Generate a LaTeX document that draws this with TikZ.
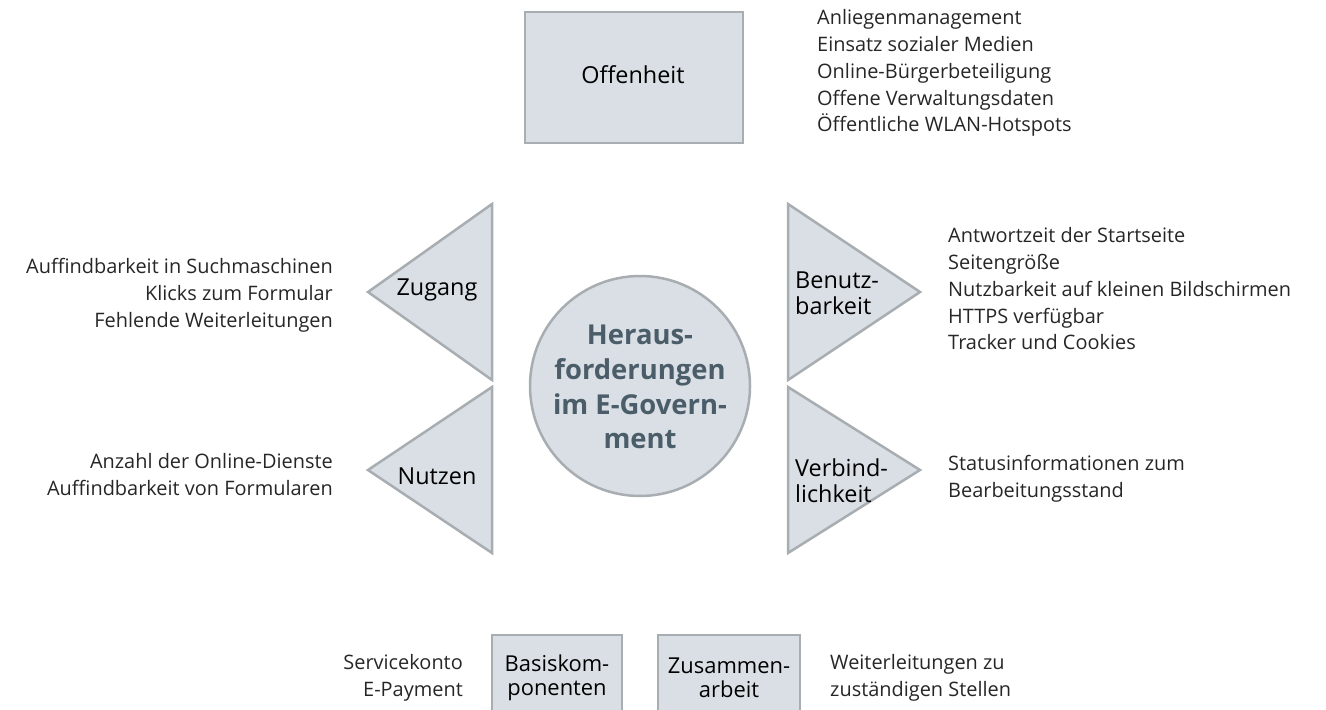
\documentclass[tikz,border=0pt]{standalone}
\usepackage{fontspec}
\setmainfont{Open Sans}
\definecolor{panelfill}{HTML}{D9DFE5}
\definecolor{panelline}{HTML}{A7ADB1}
\definecolor{slate}{HTML}{4A5D69}
\tikzset{
    panel/.style={draw=panelline, fill=panelfill, line width=2.5bp, line join=miter},
    boxtext/.style={font=\fontsize{23.5}{26}\selectfont, align=center, inner sep=0pt},
    smallbox/.style={font=\fontsize{22}{24}\selectfont, align=center, inner sep=0pt},
    items/.style={font=\fontsize{20}{27}\selectfont, text=black!85, inner sep=0pt},
}
\begin{document}
\begin{tikzpicture}[x=1bp,y=-1bp]
    \useasboundingbox (0,0) rectangle (1326,709);

    \draw[panel] (525,12) rectangle (743,143);
    \node[boxtext] (offenheit) at (633,75) {Offenheit};
    \node[items, anchor=north west, align=left] (offenlist) at (817,9) {Anliegenmanagement\\Einsatz sozialer Medien\\Online-Bürgerbeteiligung\\Offene Verwaltungsdaten\\Öffentliche WLAN-Hotspots};

    \draw[panel] (492,204) -- (492,380) -- (368,292) -- cycle;
    \node[boxtext] (zugang) at (437,290) {Zugang};
    \node[items, anchor=north east, align=right] (zuganglist) at (333,258) {Auffindbarkeit in Suchmaschinen\\Klicks zum Formular\\Fehlende Weiterleitungen};

    \draw[panel] (492,387) -- (492,553) -- (368,470) -- cycle;
    \node[boxtext] (nutzen) at (437,476) {Nutzen};
    \node[items, anchor=north east, align=right] (nutzenlist) at (333,453) {Anzahl der Online-Dienste\\Auffindbarkeit von Formularen};

    \draw[panel] (788,204) -- (788,380) -- (920,292) -- cycle;
    \node[boxtext, anchor=west, align=left] (benutz) at (795,293) {Benutz-\\barkeit};
    \node[items, anchor=north west, align=left] (benutzlist) at (948,227) {Antwortzeit der Startseite\\Seitengröße\\Nutzbarkeit auf kleinen Bildschirmen\\HTTPS verfügbar\\Tracker und Cookies};

    \draw[panel] (788,387) -- (788,553) -- (920,470) -- cycle;
    \node[boxtext, anchor=west, align=left] (verbind) at (795,481) {Verbind-\\lichkeit};
    \node[items, anchor=north west, align=left] (verbindlist) at (948,455) {Statusinformationen zum\\Bearbeitungsstand};

    \draw[panel] (640,386) circle (110);
    \node[font=\fontsize{27.5}{35}\selectfont\bfseries, text=slate, align=center, inner sep=0pt] (center) at (640,387) {Heraus-\\forderungen\\im E-Govern-\\ment};

    \draw[panel] (492,635) rectangle (622,720);
    \node[smallbox] (basis) at (557,678) {Basiskom-\\ponenten};
    \node[items, anchor=north east, align=right] (basislist) at (463,654) {Servicekonto\\E-Payment};

    \draw[panel] (658,635) rectangle (800,720);
    \node[smallbox] (zusammen) at (729,678) {Zusammen-\\arbeit};
    \node[items, anchor=north west, align=left] (zusammenlist) at (830,654) {Weiterleitungen zu\\zuständigen Stellen};
\end{tikzpicture}
\end{document}
